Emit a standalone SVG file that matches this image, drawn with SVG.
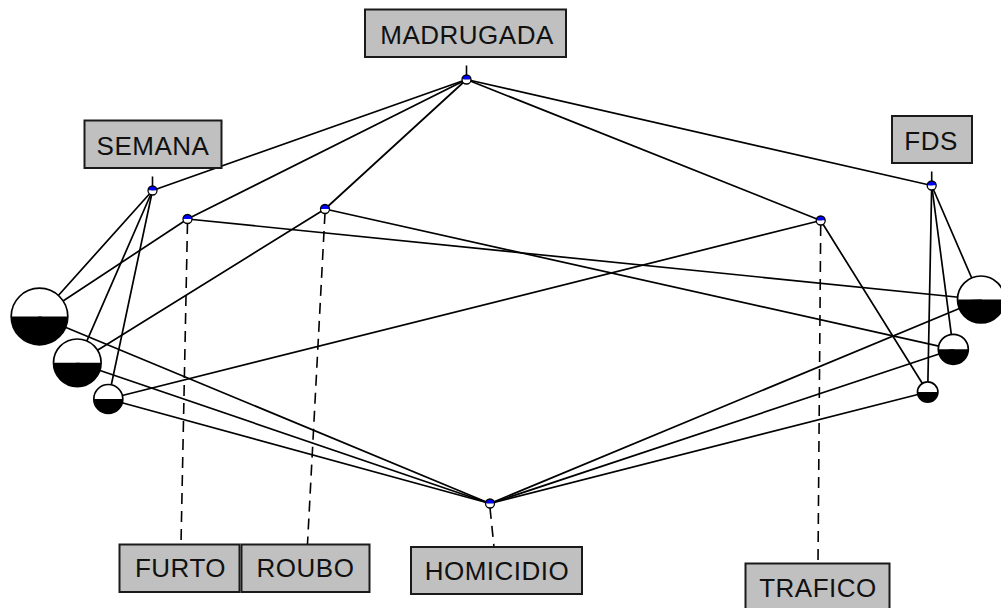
<svg xmlns="http://www.w3.org/2000/svg" xmlns:xlink="http://www.w3.org/1999/xlink" width="1001" height="608" viewBox="0 0 1001 608">
  <style>
    .edge { stroke: #000; stroke-width: 1.7; fill: none; stroke-linecap: round; }
    .link { stroke: #000; stroke-width: 1.6; fill: none; stroke-dasharray: 11 7; }
    .tick { stroke: #000; stroke-width: 1.6; }
    .up-w { fill: #fff; }
    .dn-k { fill: #000; }
    .ring { fill: none; stroke: #000; stroke-width: 1.7; }
    .box { fill: #c0c0c0; stroke: #1a1a1a; stroke-width: 2; }
    .txt { font-family: "Liberation Sans", Arial, sans-serif; font-size: 26px; letter-spacing: 0.5px; fill: #111; text-anchor: middle; }
  </style>
  <defs>
    <!-- small concept dot: blue upper half, white lower half -->
    <g id="dot">
      <path d="M -4.5 0 A 4.5 4.5 0 0 1 4.5 0 Z" fill="#0000ff"/>
      <path d="M -4.5 0 A 4.5 4.5 0 0 0 4.5 0 Z" fill="#fff"/>
      <circle r="4.5" fill="none" stroke="#000" stroke-width="1.3"/>
    </g>
  </defs>

  <rect width="1001" height="608" fill="#fff"/>

  <!-- lattice edges and label leaders -->
  <g id="connectors">
    <line class="edge" x1="466.5" y1="79.5" x2="152.5" y2="190.5"/>
    <line class="edge" x1="466.5" y1="79.5" x2="187.5" y2="219"/>
    <line class="edge" x1="466.5" y1="79.5" x2="325" y2="209"/>
    <line class="edge" x1="466.5" y1="79.5" x2="820.7" y2="220.5"/>
    <line class="edge" x1="466.5" y1="79.5" x2="931.7" y2="185.5"/>

    <line class="edge" x1="152.5" y1="190.5" x2="39.5" y2="316.5"/>
    <line class="edge" x1="152.5" y1="190.5" x2="77.3" y2="362.8"/>
    <line class="edge" x1="152.5" y1="190.5" x2="108.3" y2="399"/>

    <line class="edge" x1="187.5" y1="219" x2="39.5" y2="316.5"/>
    <line class="edge" x1="187.5" y1="219" x2="981" y2="299.5"/>

    <line class="edge" x1="325" y1="209" x2="77.3" y2="362.8"/>
    <line class="edge" x1="325" y1="209" x2="953.3" y2="349.3"/>

    <line class="edge" x1="820.7" y1="220.5" x2="108.3" y2="399"/>
    <line class="edge" x1="820.7" y1="220.5" x2="927.7" y2="392"/>

    <line class="edge" x1="931.7" y1="185.5" x2="981" y2="299.5"/>
    <line class="edge" x1="931.7" y1="185.5" x2="953.3" y2="349.3"/>
    <line class="edge" x1="931.7" y1="185.5" x2="927.7" y2="392"/>

    <line class="edge" x1="490" y1="503.5" x2="39.5" y2="316.5"/>
    <line class="edge" x1="490" y1="503.5" x2="77.3" y2="362.8"/>
    <line class="edge" x1="490" y1="503.5" x2="108.3" y2="399"/>
    <line class="edge" x1="490" y1="503.5" x2="981" y2="299.5"/>
    <line class="edge" x1="490" y1="503.5" x2="953.3" y2="349.3"/>
    <line class="edge" x1="490" y1="503.5" x2="927.7" y2="392"/>

    <line class="link" x1="187.5" y1="223" x2="181" y2="544"/>
    <line class="link" x1="325" y1="213" x2="307.5" y2="544"/>
    <line class="link" x1="490" y1="508" x2="494" y2="547"/>
    <line class="link" x1="820.7" y1="225" x2="818" y2="563"/>
  </g>

  <!-- object concepts, left side -->
  <g id="obj-l1">
    <path class="up-w" d="M 11.2 316.5 A 28.3 28.3 0 0 1 67.8 316.5 Z"/>
    <path class="dn-k" d="M 11.2 316.5 A 28.3 28.3 0 0 0 67.8 316.5 Z"/>
    <circle class="ring" cx="39.5" cy="316.5" r="28.3"/>
  </g>
  <g id="obj-l2">
    <path class="up-w" d="M 53.5 362.8 A 23.8 23.8 0 0 1 101.1 362.8 Z"/>
    <path class="dn-k" d="M 53.5 362.8 A 23.8 23.8 0 0 0 101.1 362.8 Z"/>
    <circle class="ring" cx="77.3" cy="362.8" r="23.8"/>
  </g>
  <g id="obj-l3">
    <path class="up-w" d="M 93.8 399 A 14.5 14.5 0 0 1 122.8 399 Z"/>
    <path class="dn-k" d="M 93.8 399 A 14.5 14.5 0 0 0 122.8 399 Z"/>
    <circle class="ring" cx="108.3" cy="399" r="14.5"/>
  </g>

  <!-- object concepts, right side -->
  <g id="obj-r1">
    <path class="up-w" d="M 957.5 299.5 A 23.5 23.5 0 0 1 1004.5 299.5 Z"/>
    <path class="dn-k" d="M 957.5 299.5 A 23.5 23.5 0 0 0 1004.5 299.5 Z"/>
    <circle class="ring" cx="981" cy="299.5" r="23.5"/>
  </g>
  <g id="obj-r2">
    <path class="up-w" d="M 938.3 349.3 A 15 15 0 0 1 968.3 349.3 Z"/>
    <path class="dn-k" d="M 938.3 349.3 A 15 15 0 0 0 968.3 349.3 Z"/>
    <circle class="ring" cx="953.3" cy="349.3" r="15"/>
  </g>
  <g id="obj-r3">
    <path class="up-w" d="M 917.5 392 A 10.2 10.2 0 0 1 937.9 392 Z"/>
    <path class="dn-k" d="M 917.5 392 A 10.2 10.2 0 0 0 937.9 392 Z"/>
    <circle class="ring" cx="927.7" cy="392" r="10.2"/>
  </g>

  <!-- attribute concepts with their labels -->
  <g id="madrugada">
    <line class="tick" x1="466.5" y1="76" x2="466.5" y2="65.5"/>
    <use xlink:href="#dot" href="#dot" x="466.5" y="79.5"/>
    <rect class="box" x="365" y="9.5" width="201" height="47.5"/>
    <text class="txt" x="467" y="43.5">MADRUGADA</text>
  </g>
  <g id="semana">
    <line class="tick" x1="152.5" y1="187" x2="152.5" y2="176.5"/>
    <use xlink:href="#dot" href="#dot" x="152.5" y="190.5"/>
    <rect class="box" x="84.5" y="120.5" width="137" height="47.5"/>
    <text class="txt" x="153" y="155">SEMANA</text>
  </g>
  <g id="fds">
    <line class="tick" x1="931.7" y1="182" x2="931.7" y2="171.5"/>
    <use xlink:href="#dot" href="#dot" x="931.7" y="185.5"/>
    <rect class="box" x="892" y="116" width="80" height="47"/>
    <text class="txt" x="931" y="149.5">FDS</text>
  </g>
  <g id="furto">
    <use xlink:href="#dot" href="#dot" x="187.5" y="219"/>
    <rect class="box" x="119.5" y="544.5" width="120" height="47.5"/>
    <text class="txt" x="180.5" y="577">FURTO</text>
  </g>
  <g id="roubo">
    <use xlink:href="#dot" href="#dot" x="325" y="209"/>
    <rect class="box" x="241.5" y="544.5" width="128" height="47.5"/>
    <text class="txt" x="305.5" y="577">ROUBO</text>
  </g>
  <g id="trafico">
    <use xlink:href="#dot" href="#dot" x="820.7" y="220.5"/>
    <rect class="box" x="745.5" y="563.5" width="144" height="48"/>
    <text class="txt" x="818" y="596.5">TRAFICO</text>
  </g>
  <g id="homicidio">
    <use xlink:href="#dot" href="#dot" x="490" y="503.5"/>
    <rect class="box" x="411" y="547" width="171" height="47"/>
    <text class="txt" x="497" y="580">HOMICIDIO</text>
  </g>
</svg>
